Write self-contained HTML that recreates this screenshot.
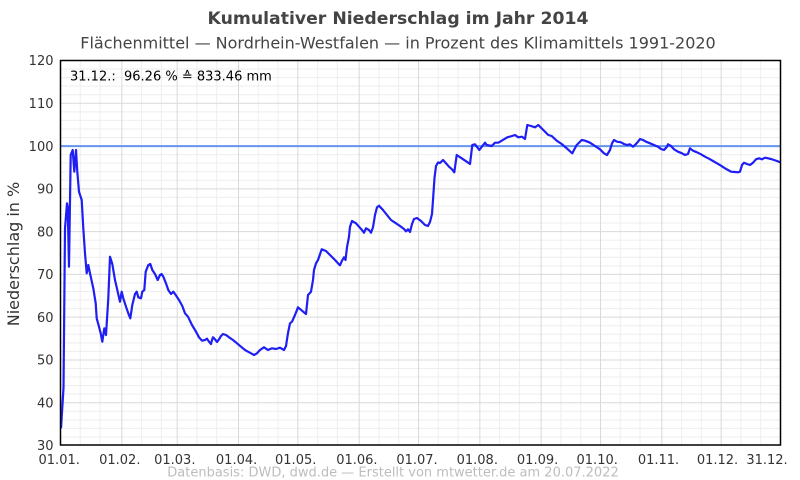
<!DOCTYPE html>
<html>
<head>
<meta charset="utf-8">
<style>
html,body{margin:0;padding:0;background:#fff;}
svg{display:block;}
text{font-family:"DejaVu Sans","Liberation Sans",sans-serif;}
</style>
</head>
<body>
<svg width="800" height="480" viewBox="0 0 800 480" xmlns="http://www.w3.org/2000/svg">
<rect x="0" y="0" width="800" height="480" fill="#fff"/>
<!-- minor horizontal grid -->
<g stroke="#eeeeee" stroke-width="1">
<line x1="60.5" x2="780.5" y1="69.06" y2="69.06"/><line x1="60.5" x2="780.5" y1="77.61" y2="77.61"/><line x1="60.5" x2="780.5" y1="86.17" y2="86.17"/><line x1="60.5" x2="780.5" y1="94.72" y2="94.72"/>
<line x1="60.5" x2="780.5" y1="111.83" y2="111.83"/><line x1="60.5" x2="780.5" y1="120.39" y2="120.39"/><line x1="60.5" x2="780.5" y1="128.94" y2="128.94"/><line x1="60.5" x2="780.5" y1="137.5" y2="137.5"/>
<line x1="60.5" x2="780.5" y1="154.61" y2="154.61"/><line x1="60.5" x2="780.5" y1="163.17" y2="163.17"/><line x1="60.5" x2="780.5" y1="171.72" y2="171.72"/><line x1="60.5" x2="780.5" y1="180.28" y2="180.28"/>
<line x1="60.5" x2="780.5" y1="197.39" y2="197.39"/><line x1="60.5" x2="780.5" y1="205.94" y2="205.94"/><line x1="60.5" x2="780.5" y1="214.5" y2="214.5"/><line x1="60.5" x2="780.5" y1="223.06" y2="223.06"/>
<line x1="60.5" x2="780.5" y1="240.17" y2="240.17"/><line x1="60.5" x2="780.5" y1="248.72" y2="248.72"/><line x1="60.5" x2="780.5" y1="257.28" y2="257.28"/><line x1="60.5" x2="780.5" y1="265.83" y2="265.83"/>
<line x1="60.5" x2="780.5" y1="282.94" y2="282.94"/><line x1="60.5" x2="780.5" y1="291.5" y2="291.5"/><line x1="60.5" x2="780.5" y1="300.06" y2="300.06"/><line x1="60.5" x2="780.5" y1="308.61" y2="308.61"/>
<line x1="60.5" x2="780.5" y1="325.72" y2="325.72"/><line x1="60.5" x2="780.5" y1="334.28" y2="334.28"/><line x1="60.5" x2="780.5" y1="342.83" y2="342.83"/><line x1="60.5" x2="780.5" y1="351.39" y2="351.39"/>
<line x1="60.5" x2="780.5" y1="368.5" y2="368.5"/><line x1="60.5" x2="780.5" y1="377.06" y2="377.06"/><line x1="60.5" x2="780.5" y1="385.61" y2="385.61"/><line x1="60.5" x2="780.5" y1="394.17" y2="394.17"/>
<line x1="60.5" x2="780.5" y1="411.28" y2="411.28"/><line x1="60.5" x2="780.5" y1="419.83" y2="419.83"/><line x1="60.5" x2="780.5" y1="428.39" y2="428.39"/><line x1="60.5" x2="780.5" y1="436.94" y2="436.94"/>
</g>
<!-- minor vertical grid -->
<g stroke="#eeeeee" stroke-width="1">
<line y1="60.5" y2="445" x1="80.28" x2="80.28"/><line y1="60.5" y2="445" x1="100.06" x2="100.06"/>
<line y1="60.5" y2="445" x1="141.6" x2="141.6"/><line y1="60.5" y2="445" x1="161.38" x2="161.38"/>
<line y1="60.5" y2="445" x1="196.98" x2="196.98"/><line y1="60.5" y2="445" x1="216.76" x2="216.76"/>
<line y1="60.5" y2="445" x1="258.3" x2="258.3"/><line y1="60.5" y2="445" x1="278.08" x2="278.08"/>
<line y1="60.5" y2="445" x1="317.64" x2="317.64"/><line y1="60.5" y2="445" x1="337.42" x2="337.42"/>
<line y1="60.5" y2="445" x1="378.96" x2="378.96"/><line y1="60.5" y2="445" x1="398.74" x2="398.74"/>
<line y1="60.5" y2="445" x1="438.3" x2="438.3"/><line y1="60.5" y2="445" x1="458.08" x2="458.08"/>
<line y1="60.5" y2="445" x1="499.62" x2="499.62"/><line y1="60.5" y2="445" x1="519.4" x2="519.4"/>
<line y1="60.5" y2="445" x1="560.94" x2="560.94"/><line y1="60.5" y2="445" x1="580.72" x2="580.72"/>
<line y1="60.5" y2="445" x1="620.28" x2="620.28"/><line y1="60.5" y2="445" x1="640.06" x2="640.06"/>
<line y1="60.5" y2="445" x1="681.6" x2="681.6"/><line y1="60.5" y2="445" x1="701.38" x2="701.38"/>
<line y1="60.5" y2="445" x1="740.94" x2="740.94"/><line y1="60.5" y2="445" x1="760.72" x2="760.72"/>
</g>
<!-- major grid -->
<g stroke="#d9d9d9" stroke-width="1">
<line x1="60.5" x2="780.5" y1="103.28" y2="103.28"/><line x1="60.5" x2="780.5" y1="188.83" y2="188.83"/>
<line x1="60.5" x2="780.5" y1="231.61" y2="231.61"/><line x1="60.5" x2="780.5" y1="274.39" y2="274.39"/><line x1="60.5" x2="780.5" y1="317.17" y2="317.17"/>
<line x1="60.5" x2="780.5" y1="359.94" y2="359.94"/><line x1="60.5" x2="780.5" y1="402.72" y2="402.72"/>
<line y1="60.5" y2="445" x1="121.82" x2="121.82"/><line y1="60.5" y2="445" x1="177.2" x2="177.2"/><line y1="60.5" y2="445" x1="238.52" x2="238.52"/>
<line y1="60.5" y2="445" x1="297.86" x2="297.86"/><line y1="60.5" y2="445" x1="359.18" x2="359.18"/><line y1="60.5" y2="445" x1="418.52" x2="418.52"/>
<line y1="60.5" y2="445" x1="479.84" x2="479.84"/><line y1="60.5" y2="445" x1="541.16" x2="541.16"/><line y1="60.5" y2="445" x1="600.5" x2="600.5"/>
<line y1="60.5" y2="445" x1="661.82" x2="661.82"/><line y1="60.5" y2="445" x1="721.16" x2="721.16"/>
</g>
<!-- 100% line -->
<line x1="60.5" x2="780.5" y1="146.1" y2="146.1" stroke="#6495ed" stroke-width="2"/>
<defs><clipPath id="pc"><rect x="60.5" y="60.5" width="720" height="384.5"/></clipPath></defs>
<polyline clip-path="url(#pc)" fill="none" stroke="#1e1ef5" stroke-width="2.2" stroke-linejoin="round" points="
61,428.3 63.5,388 65,228.3 67,203.3 67.7,206.7 69,266.7 70.7,155 72.7,150 74.3,171.7 76,150 77.3,171.7 79,191.7 81.7,200 83.3,228.3 85,253.3 86.7,273.3 88.3,265 90,273.3 93.3,288.3 95.7,303.3 96.7,318.3 99,326.7 100.7,333.3 102.3,341.7 104.3,328.3 106,335 108.3,298.3 110,256.7 112.3,264 115,280 117.7,291.7 120,301.7 121.7,291.7 123.3,298.3 126,306.7 128.3,313.3 130.3,318.3 132.3,305 135,294 136.7,291.7 138.3,297.3 141,298.3 142.3,291.7 144.3,290 145.7,271.7 148.3,265 150.3,264 152.3,270 155,274 157.7,280 160,275 161.7,274 163.3,276.7 166,283.3 168.3,290 171,294 173.3,291.7 175.7,295 179,300 182.3,306 185,313.3 188,316.7 192,325 196,331.7 199,337.3 202,340.7 205,340 207,338.7 209,341.7 211,344 212,340 213,337.3 215,339.3 217,342 219,339.3 221,336 223,334 226,335 229,337.3 233,340 237,343.3 241,346.7 245,350 248,351.7 251,353.3 254,355 257,353.3 260,350 264,347.3 268,350 272,348.3 276,349 280,347.7 284,350 286,346 288,333 290,323.3 292,321.7 295,315 298,307.3 302,310.7 306,314 308,295 311,291.7 313,280 314,270 316,263.3 318,260 321.7,249.3 326,251 330,255 335,260 338,263.3 340,265.3 342,260.7 344,257.3 345.5,260 347,247.3 349,236.7 350,226.7 352,221 356,223.3 359,226.7 362,230 364,232.7 366,228.3 369,230 371,232.7 373,227.3 375,215 377,207.3 379,205.7 383,210 387,215 391,220 396,223.3 400,226 404,229 406,231.3 408,229.3 410,232 412,224 414,219 417,218 421,221 425,225 428,226 430,222 432,214 433,200 434.5,178 436,166 438,162.5 440,163 443,160 446,163.3 449,166.7 452,169.3 454.3,172.3 456.7,155 461.7,158.3 466.7,161.7 470,164 472.3,145 475,144.3 479.3,150 485,142.7 486.7,145 491.7,146 495,142.7 498.3,142.7 501.7,140.7 507.3,137.3 512,136 515,135 518.3,137.3 522,136.7 525,139 527.3,125 531,126 535,127.3 538.3,125 543.3,130 548.3,135 551.7,136 556.7,140.7 561.7,144 566.7,148.3 572.3,153.3 574,150 576.7,145 581.7,140 585,140.7 590,142.7 595,146 600,149.3 604,153.3 607,155 610,150 612,143.3 614,140 617,141.7 621,142.3 624,144 627,145 630,144.3 633,146.7 635,145 638,141.7 640,139 643,140 646,141.7 650,143.3 654,145 658,146.7 661,149 664,150 667,146.7 668,144.3 671,146 674,149.3 678,151.7 682,153.3 685,155 688,154 690,148.3 693,150.7 697,152.3 701,154.3 705,156.7 709,158.7 713,161 717,163.3 721,165.7 725,168.3 728,170 731,171.7 735,172 738,172.3 740,171.7 742,165 744,162.7 747,164 750,165 753,162.7 756,159.3 759,158.3 762,159.3 765,157.7 768,158.3 771,159 774,160 777,161 780,162.3"/>
<!-- plot border -->
<rect x="60.5" y="60.5" width="720" height="384.5" fill="none" stroke="#000" stroke-width="1.5"/>
<!-- y tick labels -->
<g font-size="13" fill="#333" text-anchor="end">
<text x="53.5" y="65.2">120</text>
<text x="53.5" y="108">110</text>
<text x="53.5" y="150.8">100</text>
<text x="53.5" y="193.5">90</text>
<text x="53.5" y="236.3">80</text>
<text x="53.5" y="279.1">70</text>
<text x="53.5" y="321.9">60</text>
<text x="53.5" y="364.6">50</text>
<text x="53.5" y="407.4">40</text>
<text x="53.5" y="450">30</text>
</g>
<!-- x tick labels -->
<g font-size="13" fill="#333" text-anchor="middle">
<text x="59.2" y="464">01.01.</text>
<text x="119.8" y="464">01.02.</text>
<text x="174.8" y="464">01.03.</text>
<text x="236.6" y="464">01.04.</text>
<text x="295.7" y="464">01.05.</text>
<text x="356.9" y="464">01.06.</text>
<text x="417" y="464">01.07.</text>
<text x="477.3" y="464">01.08.</text>
<text x="537.6" y="464">01.09.</text>
<text x="597.2" y="464">01.10.</text>
<text x="658.5" y="464">01.11.</text>
<text x="717.5" y="464">01.12.</text>
<text x="767" y="464">31.12.</text>
</g>
<!-- annotation -->
<text x="70" y="80.5" font-size="13" fill="#000" xml:space="preserve">31.12.:  96.26 % ≙ 833.46 mm</text>
<!-- titles -->
<text x="398" y="24" font-size="17" font-weight="bold" fill="#444" text-anchor="middle" textLength="381" lengthAdjust="spacingAndGlyphs">Kumulativer Niederschlag im Jahr 2014</text>
<text x="398" y="48.3" font-size="16" fill="#444" text-anchor="middle">Flächenmittel — Nordrhein-Westfalen — in Prozent des Klimamittels 1991-2020</text>
<text transform="translate(19,254) rotate(-90)" font-size="16" fill="#333" text-anchor="middle">Niederschlag in %</text>
<text x="393" y="476.5" font-size="13" fill="#bdbdbd" text-anchor="middle">Datenbasis: DWD, dwd.de — Erstellt von mtwetter.de am 20.07.2022</text>
</svg>
</body>
</html>
